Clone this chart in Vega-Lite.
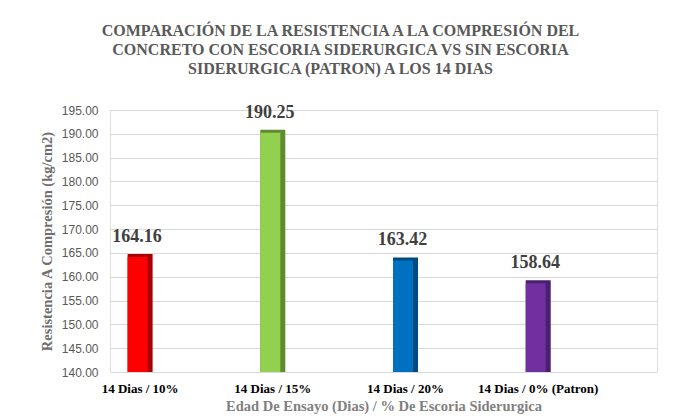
{
  "$schema": "https://vega.github.io/schema/vega-lite/v6.json",
  "width": 547,
  "height": 262,
  "autosize": {"type": "none"},
  "padding": {"left": 110, "top": 110, "right": 18, "bottom": 48},
  "background": "white",
  "title": {
    "text": ["COMPARACIÓN DE LA RESISTENCIA A LA COMPRESIÓN DEL", "CONCRETO CON ESCORIA SIDERURGICA VS SIN ESCORIA", "SIDERURGICA (PATRON) A LOS 14 DIAS"],
    "font": "Liberation Serif",
    "fontSize": 16,
    "fontWeight": "bold",
    "color": "#595959",
    "lineHeight": 19,
    "anchor": "middle",
    "dx": -43,
    "offset": 27
  },
  "data": {
    "values": [
      {"Categoria": "14 Dias / 10%", "Resistencia": 164.16},
      {"Categoria": "14 Dias / 15%", "Resistencia": 190.25},
      {"Categoria": "14 Dias / 20%", "Resistencia": 163.42},
      {"Categoria": "14 Dias / 0% (Patron)", "Resistencia": 158.64}
    ]
  },
  "encoding": {
    "x": {
      "field": "Categoria",
      "type": "nominal",
      "sort": null,
      "scale": {"paddingInner": 0.81, "paddingOuter": 0.466, "align": 0.1415},
      "axis": {
        "labelAngle": 0,
        "labelFont": "Liberation Serif",
        "labelFontSize": 13,
        "labelFontWeight": "bold",
        "labelColor": "#000000",
        "labelPadding": 10,
        "labelLimit": 0,
        "ticks": false,
        "domain": false,
        "grid": false,
        "title": "Edad De Ensayo (Dias) / % De Escoria Siderurgica",
        "titleFont": "Liberation Serif",
        "titleFontSize": 14.5,
        "titleFontWeight": "bold",
        "titleColor": "#7F7F7F",
        "titlePadding": 4
      }
    },
    "y": {
      "field": "Resistencia",
      "type": "quantitative",
      "scale": {"domain": [140, 195], "zero": false, "nice": false},
      "axis": {
        "tickCount": 11,
        "format": ".2f",
        "labelFont": "Liberation Sans",
        "labelFontSize": 12,
        "labelColor": "#595959",
        "labelPadding": 12,
        "ticks": false,
        "domain": false,
        "grid": true,
        "gridColor": "#D9D9D9",
        "gridWidth": 1,
        "title": "Resistencia  A Compresión (kg/cm2)",
        "titleFont": "Liberation Serif",
        "titleFontSize": 14.5,
        "titleFontWeight": "bold",
        "titleColor": "#6F6F6F",
        "titlePadding": 7
      }
    }
  },
  "layer": [
    {
      "mark": {"type": "bar", "size": 25, "yOffset": -3},
      "encoding": {
        "y2": {"datum": 140},
        "color": {
          "field": "Categoria",
          "type": "nominal",
          "scale": {
            "domain": ["14 Dias / 10%", "14 Dias / 15%", "14 Dias / 20%", "14 Dias / 0% (Patron)"],
            "range": ["#A80000", "#5F8A30", "#004A80", "#4B1E6E"]
          },
          "legend": null
        }
      }
    },
    {
      "mark": {"type": "bar", "size": 20, "xOffset": -2.5},
      "encoding": {
        "y2": {"datum": 140},
        "color": {
          "field": "Categoria",
          "type": "nominal",
          "scale": {
            "domain": ["14 Dias / 10%", "14 Dias / 15%", "14 Dias / 20%", "14 Dias / 0% (Patron)"],
            "range": ["#FF0000", "#92D050", "#0070C0", "#7030A0"]
          },
          "legend": null
        }
      }
    },
    {
      "mark": {
        "type": "text",
        "dy": -15,
        "xOffset": -3,
        "baseline": "alphabetic",
        "font": "Liberation Serif",
        "fontSize": 18,
        "fontWeight": "bold",
        "color": "#404040"
      },
      "encoding": {
        "text": {"field": "Resistencia", "type": "quantitative", "format": ".2f"}
      }
    }
  ],
  "resolve": {"scale": {"color": "independent"}}
}
